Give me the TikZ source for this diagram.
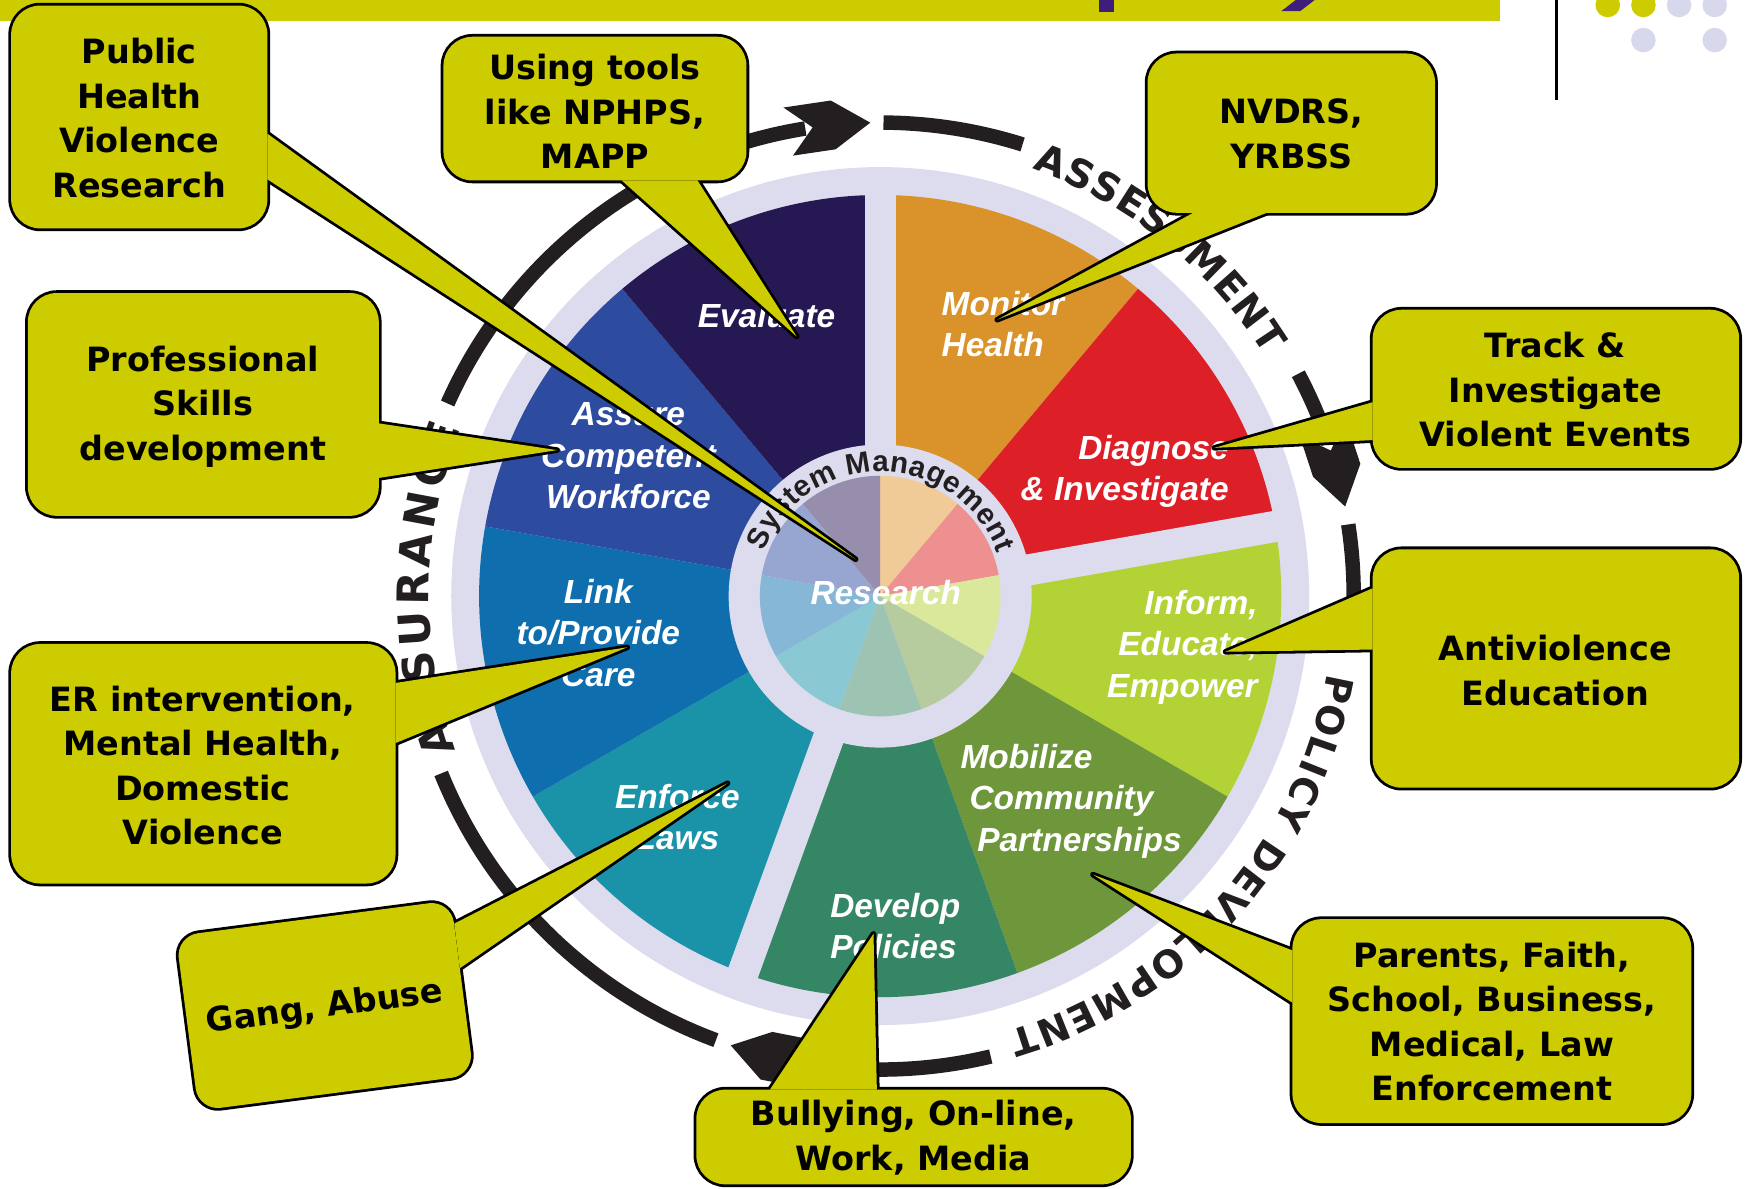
\documentclass[tikz,border=0pt]{standalone}
\usepackage{fontspec}
\usetikzlibrary{decorations.text}
\newfontfamily\dvsans{DejaVu Sans}
\newfontfamily\libsans{Liberation Sans}
\definecolor{cyel}{RGB}{204,204,0}
\definecolor{lav}{RGB}{220,220,238}
\definecolor{lavdot}{RGB}{216,216,236}
\definecolor{ink}{RGB}{35,31,32}
\definecolor{purp}{RGB}{62,30,122}
\definecolor{cEval}{RGB}{38,24,82}
\definecolor{cAssure}{RGB}{46,76,159}
\definecolor{cLink}{RGB}{14,110,174}
\definecolor{cEnf}{RGB}{26,147,168}
\definecolor{cDev}{RGB}{53,134,100}
\definecolor{cMob}{RGB}{110,150,58}
\definecolor{cInf}{RGB}{179,210,53}
\definecolor{cDiag}{RGB}{221,31,40}
\definecolor{cMon}{RGB}{218,146,43}
\definecolor{pEval}{RGB}{151,141,172}
\definecolor{pAssure}{RGB}{150,166,208}
\definecolor{pLink}{RGB}{135,183,214}
\definecolor{pEnf}{RGB}{138,201,212}
\definecolor{pDev}{RGB}{157,196,178}
\definecolor{pMob}{RGB}{182,204,158}
\definecolor{pInf}{RGB}{218,232,155}
\definecolor{pDiag}{RGB}{238,144,144}
\definecolor{pMon}{RGB}{240,202,151}
\newcommand\ringfont{\dvsans\bfseries\fontsize{35}{35}\selectfont}
\newcommand\ringfontb{\dvsans\bfseries\fontsize{34}{34}\selectfont}
\newcommand\ringfontc{\dvsans\bfseries\fontsize{39}{39}\selectfont}
\newcommand\smfont{\libsans\bfseries\fontsize{26.5}{26.5}\selectfont}
\newcommand\mysector[4]{\fill[#1] (0,0) -- (#2:#4) arc[start angle=#2, end angle=#3, radius=#4] -- cycle;}
\newcommand\ringarrow[1]{\fill[ink] (#1:425) -- ({#1+4.5}:447) -- ({#1+10}:447) -- ({#1+7}:425) -- ({#1+10}:403) -- ({#1+4.5}:403) -- cycle;}
\newcommand\callbox[5]{%
  \filldraw[boxsh] #1 rectangle #2;
  \filldraw[wedsh] #3 -- #5 -- #4 -- cycle;
  \fill[boxfl] #1 rectangle #2;
  \fill[wedfl] #3 -- #5 -- #4 -- cycle;}
\begin{document}
\begin{tikzpicture}[x=1pt,y=1pt,
  ctext/.style={font=\dvsans\bfseries\fontsize{30}{40}\selectfont, align=center, text=black, inner sep=0pt},
  seg/.style={font=\libsans\bfseries\itshape\fontsize{30}{37}\selectfont, text=white, inner sep=0pt},
  boxsh/.style={fill=cyel, draw=black, line width=5pt, rounded corners=26pt},
  boxfl/.style={fill=cyel, rounded corners=26pt},
  wedsh/.style={fill=cyel, draw=black, line width=5pt, line join=round},
  wedfl/.style={fill=cyel},
  ring/.style={draw=ink, line width=13pt},
  ringtext/.style={decorate, decoration={text along path, text color=ink, text align={fit to path}}}
]
\useasboundingbox (0,0) rectangle (1568,1067);
\fill[white] (0,0) rectangle (1568,1067);
% title banner with the cut-off descenders of its title
\fill[cyel] (0,1048.5) rectangle (1346,1067);
\fill[purp] (986,1056) rectangle (1000,1067);
\fill[purp] (1163,1067) -- (1180,1067) -- (1167,1057) -- (1150,1057) -- cycle;
% top right decoration
\coordinate (vl1) at (1397,977);
\coordinate (vl2) at (1397,1067);
\draw[black, line width=2.5pt] (vl1) -- (vl2);
\fill[cyel] (1443,1062.5) circle[radius=11];
\fill[cyel] (1475,1062.5) circle[radius=11];
\fill[lavdot] (1507,1062.5) circle[radius=11];
\fill[lavdot] (1539,1062.5) circle[radius=11];
\fill[lavdot] (1475,1031) circle[radius=11];
\fill[lavdot] (1539,1031) circle[radius=11];
% wheel
\coordinate (C) at (790,532);
\begin{scope}[shift={(790,532)}]
 \fill[lav] (0,0) circle[radius=385];
 \mysector{cMon}{50}{90}{360}
 \mysector{cDiag}{10}{50}{360}
 \mysector{cInf}{-30}{10}{360}
 \mysector{cMob}{-70}{-30}{360}
 \mysector{cDev}{-110}{-70}{360}
 \mysector{cEnf}{-150}{-110}{360}
 \mysector{cLink}{170}{210}{360}
 \mysector{cAssure}{130}{170}{360}
 \mysector{cEval}{90}{130}{360}
 \draw[lav, line width=28pt] (0,0) -- (90:375);
 \draw[lav, line width=28pt] (0,0) -- (10:375);
 \draw[lav, line width=28pt] (0,0) -- (-110:375);
 \fill[lav] (0,0) circle[radius=136];
 \mysector{pMon}{50}{90}{108}
 \mysector{pDiag}{10}{50}{108}
 \mysector{pInf}{-30}{10}{108}
 \mysector{pMob}{-70}{-30}{108}
 \mysector{pDev}{-110}{-70}{108}
 \mysector{pEnf}{-150}{-110}{108}
 \mysector{pLink}{170}{210}{108}
 \mysector{pAssure}{130}{170}{108}
 \mysector{pEval}{90}{130}{108}
 \path[ringtext, decoration={text={|\smfont|System Management}}] (159:112) arc[start angle=159, end angle=20, radius=112];
 % outer ring
 \draw[ring] (156:425) arc[start angle=156, end angle=99.1, radius=425];
 \ringarrow{91.2}
 \draw[ring] (89.6:425) arc[start angle=89.6, end angle=72.5, radius=425];
 \path[ringtext, decoration={text={|\ringfont|ASSESSMENT}}] (70.4:407) arc[start angle=70.4, end angle=32, radius=407];
 \draw[ring] (28:425) arc[start angle=28, end angle=18.8, radius=425];
 \ringarrow{10.9}
 \draw[ring] (8.7:425) arc[start angle=8.7, end angle=-6, radius=425];
 \path[ringtext, decoration={text={|\ringfontb|POLICY DEVELOPMENT}}] (-9.8:407) arc[start angle=-9.8, end angle=-73.6, radius=407];
 \draw[ring] (-76.5:425) arc[start angle=-76.5, end angle=-100.5, radius=425];
 \ringarrow{-108.4}
 \draw[ring] (-110.3:425) arc[start angle=-110.3, end angle=-158, radius=425];
 \path[ringtext, decoration={text={|\ringfontc|ASSURANCE}}] (200:405) arc[start angle=200, end angle=158.2, radius=405];
\end{scope}
% segment labels
\node[seg] (ev) at (688,784) {Evaluate};
\node[seg, align=left, anchor=west] (mon) at (845,776) {Monitor\\Health};
\node[seg, align=right, anchor=east] (dia) at (1103,644) {Diagnose\\\& Investigate};
\node[seg, align=right, anchor=east] (inf) at (1129,486) {Inform,\\Educate,\\Empower};
\node[seg, anchor=base west] (mob1) at (862,377) {Mobilize};
\node[seg, anchor=base west] (mob2) at (870,340) {Community};
\node[seg, anchor=base west] (mob3) at (877,303) {Partnerships};
\node[seg, align=left, anchor=west] (dev) at (745,236) {Develop\\Policies};
\node[seg, align=center] (enf) at (608,334) {Enforce\\Laws};
\node[seg, align=center] (link) at (537,499) {Link\\to/Provide\\Care};
\node[seg, align=center] (ass) at (564,658) {Assure\\Competent\\Workforce};
\node[seg] (res) at (795,535) {Research};
% callouts
\callbox{(10,862)}{(240,1062)}{(240,947)}{(240,906)}{(768,565)}
\node[ctext] (pub) at (125,961) {Public\\Health\\Violence\\Research};
\callbox{(398,905)}{(670,1034)}{(558,905)}{(626,905)}{(715,765)}
\node[ctext] (tools) at (534,967) {Using tools\\like NPHPS,\\MAPP};
\callbox{(1030,876)}{(1288,1019)}{(1071,876)}{(1137,876)}{(895,780)}
\node[ctext] (nvdrs) at (1159,947) {NVDRS,\\YRBSS};
\callbox{(25,604)}{(340,804)}{(340,687)}{(340,638)}{(500,663)}
\node[ctext] (prof) at (182,702) {Professional\\Skills\\development};
\callbox{(1232,647)}{(1561,789)}{(1232,706)}{(1232,672)}{(1090,665)}
\node[ctext] (track) at (1396,717) {Track \&\\Investigate\\Violent Events};
\callbox{(1232,360)}{(1561,574)}{(1232,539)}{(1232,484)}{(1100,482)}
\node[ctext] (anti) at (1396,465) {Antiviolence\\Education};
\callbox{(10,274)}{(355,489)}{(355,454)}{(355,400)}{(563,486)}
\node[ctext] (er) at (182,380) {ER intervention,\\Mental Health,\\Domestic\\Violence};
% Gang, Abuse (tilted)
\begin{scope}[shift={(291.5,164.5)}, rotate=7.4]
 \filldraw[boxsh, rounded corners=20pt] (-124.5,-79) rectangle (124.5,79);
\end{scope}
\filldraw[wedsh] (407.7,238) -- (653,364) -- (412.8,198) -- cycle;
\begin{scope}[shift={(291.5,164.5)}, rotate=7.4]
 \fill[boxfl, rounded corners=20pt] (-124.5,-79) rectangle (124.5,79);
\end{scope}
\fill[wedfl] (407.7,238) -- (653,364) -- (412.8,198) -- cycle;
\node[ctext, rotate=7.4] (gang) at (291.5,162) {Gang, Abuse};
\callbox{(625,4)}{(1015,89)}{(691,89)}{(787,89)}{(784,229)}
\node[ctext] (bully) at (820,46) {Bullying, On-line,\\Work, Media};
\callbox{(1160,59)}{(1518,242)}{(1160,214)}{(1160,167)}{(981,282)}
\node[ctext] (parents) at (1339,150) {Parents, Faith,\\School, Business,\\Medical, Law\\Enforcement};
\end{tikzpicture}
\end{document}
